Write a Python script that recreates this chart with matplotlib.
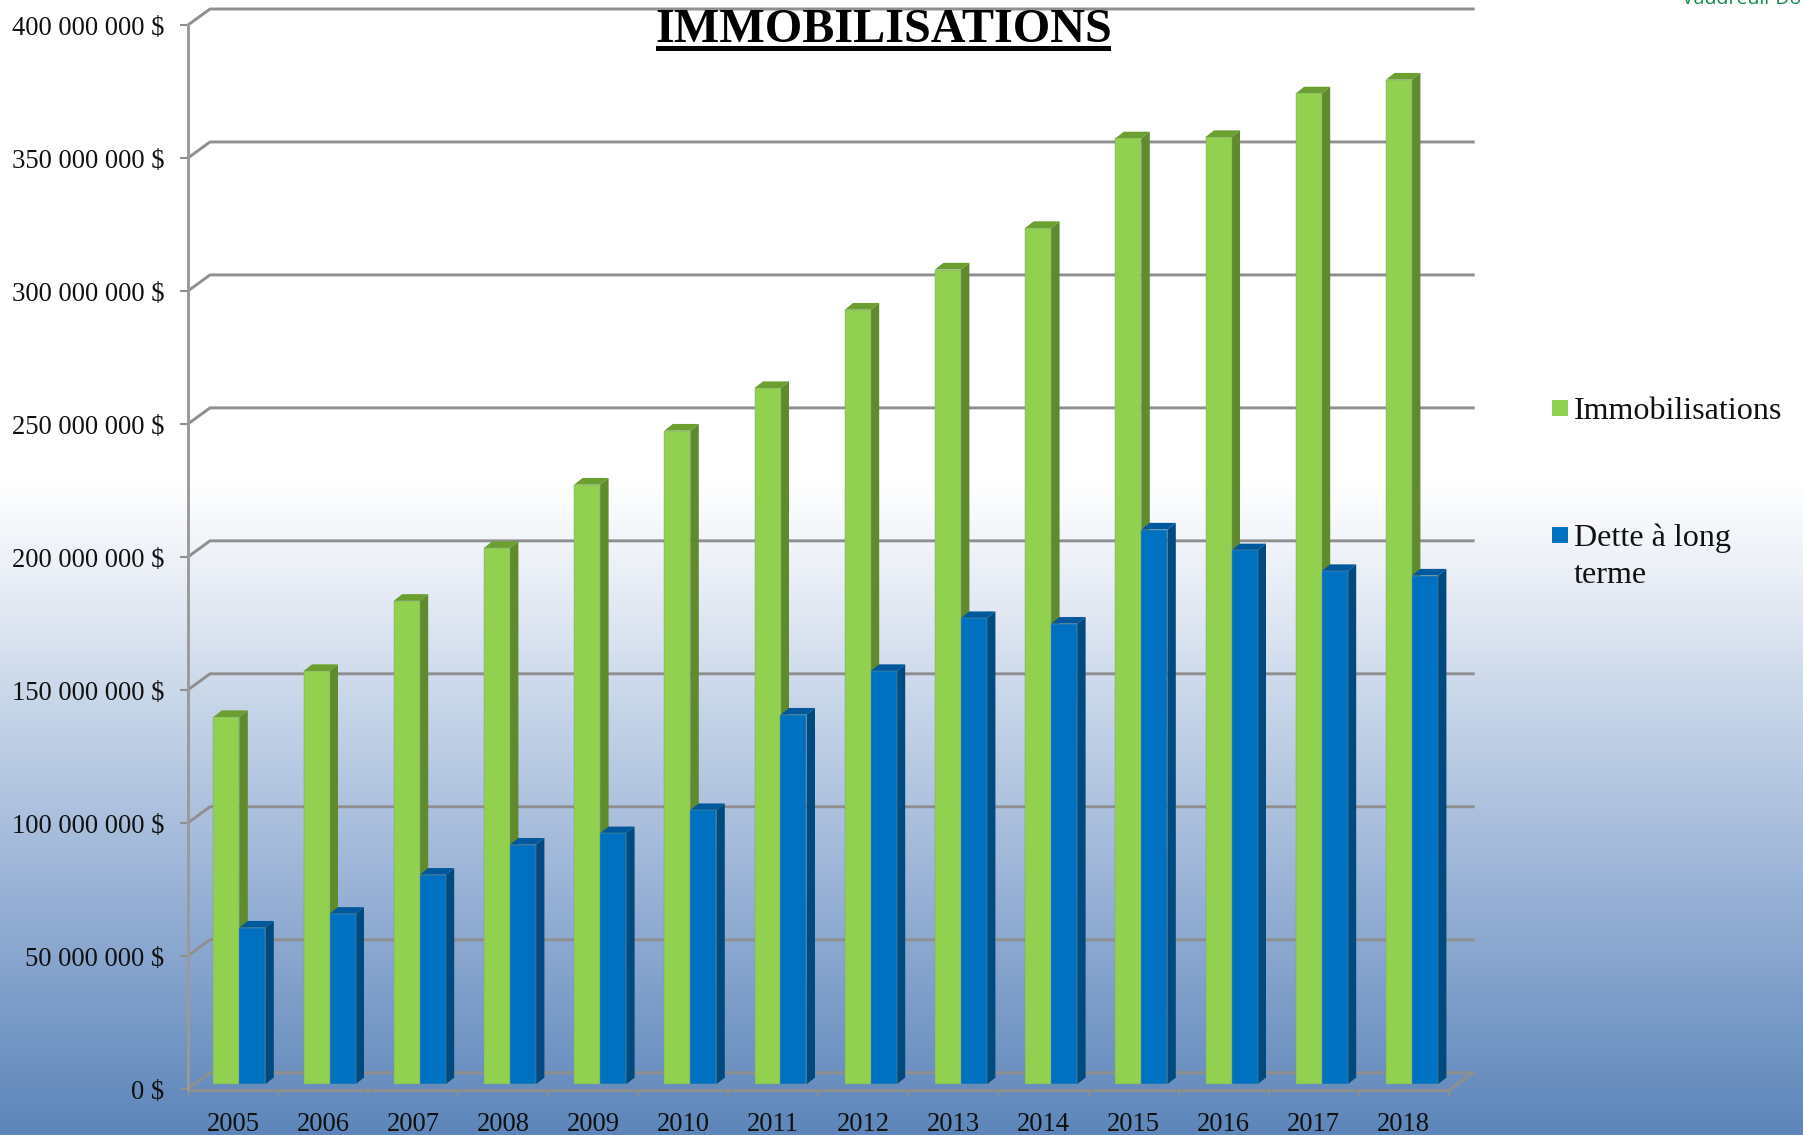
import matplotlib
matplotlib.use("Agg")
import matplotlib.pyplot as plt
from matplotlib.patches import Rectangle
from matplotlib.transforms import ScaledTranslation
import numpy as np

plt.rcParams['font.family'] = ['Liberation Serif', 'DejaVu Serif']

annees = [2005, 2006, 2007, 2008, 2009, 2010, 2011, 2012, 2013, 2014, 2015, 2016, 2017, 2018]
immobilisations = [138.1, 155.4, 181.8, 201.7, 225.5, 245.8, 261.8, 291.3, 306.4, 322.0, 355.7, 356.2, 372.6, 377.8]
dette = [58.9, 64.1, 78.8, 90.1, 94.4, 103.1, 139.0, 155.4, 175.3, 173.2, 208.6, 200.8, 193.0, 191.3]
graduations = [0, 50, 100, 150, 200, 250, 300, 350, 400]

W, H = 1803, 1135
GRIS = '#8f8f8f'
VERT = ('#92d050', '#5f8a2e', '#6b9f30')
BLEU = ('#0070c0', '#004a80', '#00599c')

fig = plt.figure(figsize=(W / 100, H / 100), dpi=100)

# fond en degrade
fond = fig.add_axes([0, 0, 1, 1], zorder=0)
fond.axis('off')
yy = np.arange(H)
stops_y = [0, 480, 600, 700, 900, 1135]
stops_c = np.array([[255, 255, 255], [255, 255, 255], [228, 234, 244], [200, 214, 233], [150, 176, 213], [92, 133, 185]])
grad = np.stack([np.interp(yy, stops_y, stops_c[:, k]) for k in range(3)], axis=1) / 255
fond.imshow(grad[:, None, :], aspect='auto', extent=[0, 1, 0, 1], origin='upper')

# axe principal : plan avant du graphique
x0_px, x1_px = 188.0, 1448.7
y0_px, y400_px = 1088.7, 25.0
ax = fig.add_axes([x0_px / W, 1 - y0_px / H, (x1_px - x0_px) / W, (y0_px - y400_px) / H], zorder=1)
ax.patch.set_alpha(0)
ax.set_xlim(0, len(annees))
ax.set_ylim(0, 400)
px_x = len(annees) / (x1_px - x0_px)
px_y = 400 / (y0_px - y400_px)

# mur du fond
mur_dx, mur_dy = 22 * px_x, 16 * px_y
fin_x = len(annees) + 24.5 * px_x
for g in graduations:
    ax.plot([0, mur_dx, fin_x], [g, g + mur_dy, g + mur_dy], color=GRIS, lw=2.1, clip_on=False, zorder=1,
            solid_joinstyle='round')
ax.plot([len(annees), fin_x], [-1.3 * px_y, mur_dy], color=GRIS, lw=2.1, clip_on=False, zorder=1)
ax.plot([0, len(annees)], [-1.3 * px_y, -1.3 * px_y], color=GRIS, lw=2.1, clip_on=False, zorder=1)

# barres 3D
larg = 26 * px_x
pas = 90.2 * px_x
decal = 6.2 * px_x
base = 4.4 * px_y
prof_x, prof_y = 8.5 * px_x, 6.7 * px_y


def barres(valeurs, depart, couleurs, z):
    x = (np.arange(len(valeurs)) + 0.5) * pas + decal + depart
    ax.bar(x, valeurs, width=larg, bottom=base, color=couleurs[0], edgecolor='#7f9a8a', linewidth=0.3,
           zorder=z + 2, clip_on=False)
    for xi, v in zip(x, valeurs):
        g, d, h = xi - larg / 2, xi + larg / 2, v + base
        ax.fill([d, d + prof_x, d + prof_x, d], [base, base + prof_y, h + prof_y, h],
                color=couleurs[1], lw=0, zorder=z + 1, clip_on=False)
        ax.fill([g, g + prof_x, d + prof_x, d], [h, h + prof_y, h + prof_y, h],
                color=couleurs[2], lw=0, zorder=z + 1, clip_on=False)


barres(immobilisations, -larg / 2, VERT, 2)
barres(dette, larg / 2, BLEU, 5)

# axes et etiquettes
for nom in ['top', 'right', 'bottom']:
    ax.spines[nom].set_visible(False)
ax.spines['left'].set_color('#9a9a9a')
ax.spines['left'].set_linewidth(2.1)
ax.set_yticks(graduations)
ax.set_yticklabels(['0 $'] + ['{} 000 000 $'.format(g) for g in graduations[1:]], fontsize=19.2, color='#111111')
ax.tick_params(axis='y', length=5.8, width=1.5, color=GRIS, pad=11)
ax.set_xticks(np.arange(len(annees) + 1))
ax.set_xticklabels([])
ax.tick_params(axis='x', which='major', length=5, width=1.2, color=GRIS, pad=0)
ax.set_xticks(np.arange(len(annees)) + 0.5, minor=True)
ax.set_xticklabels([str(a) for a in annees], minor=True, fontsize=19.2, color='#111111')
ax.tick_params(axis='x', which='minor', length=0, pad=16.5)
# les etiquettes de l'axe y sont un peu plus basses que les graduations
for lab in ax.get_yticklabels():
    lab.set_transform(lab.get_transform() + ScaledTranslation(0, -0.5 / 100, fig.dpi_scale_trans))

# titre souligne
fig.text(883.5 / W, 1 - 41.7 / H, 'IMMOBILISATIONS', fontsize=34.7, fontweight='bold', ha='center',
         va='baseline', color='black', zorder=5)
fig.add_artist(Rectangle((656 / W, 1 - 50.7 / H), 455 / W, 4.7 / H, transform=fig.transFigure,
                         facecolor='black', edgecolor='none', zorder=5))

# legende
for y_px, coul in [(400, VERT[0]), (527, BLEU[0])]:
    fig.add_artist(Rectangle((1552 / W, 1 - (y_px + 16) / H), 16 / W, 16 / H, transform=fig.transFigure,
                             facecolor=coul, edgecolor='none', zorder=5))
fig.text(1574 / W, 1 - 419 / H, 'Immobilisations', fontsize=23.1, va='baseline', color='#111111', zorder=5)
fig.text(1574 / W, 1 - 583 / H, 'Dette à long\nterme', fontsize=23.1, va='baseline', linespacing=1.36,
         color='#111111', zorder=5)

# logo coupe en haut a droite
fig.text(1682 / W, 1 - 4 / H, 'Vaudreuil-Dorion', family=['Open Sans', 'DejaVu Sans'], fontsize=14,
         va='baseline', color='#12894e', zorder=5)

fig.savefig('out.png', dpi=100)
